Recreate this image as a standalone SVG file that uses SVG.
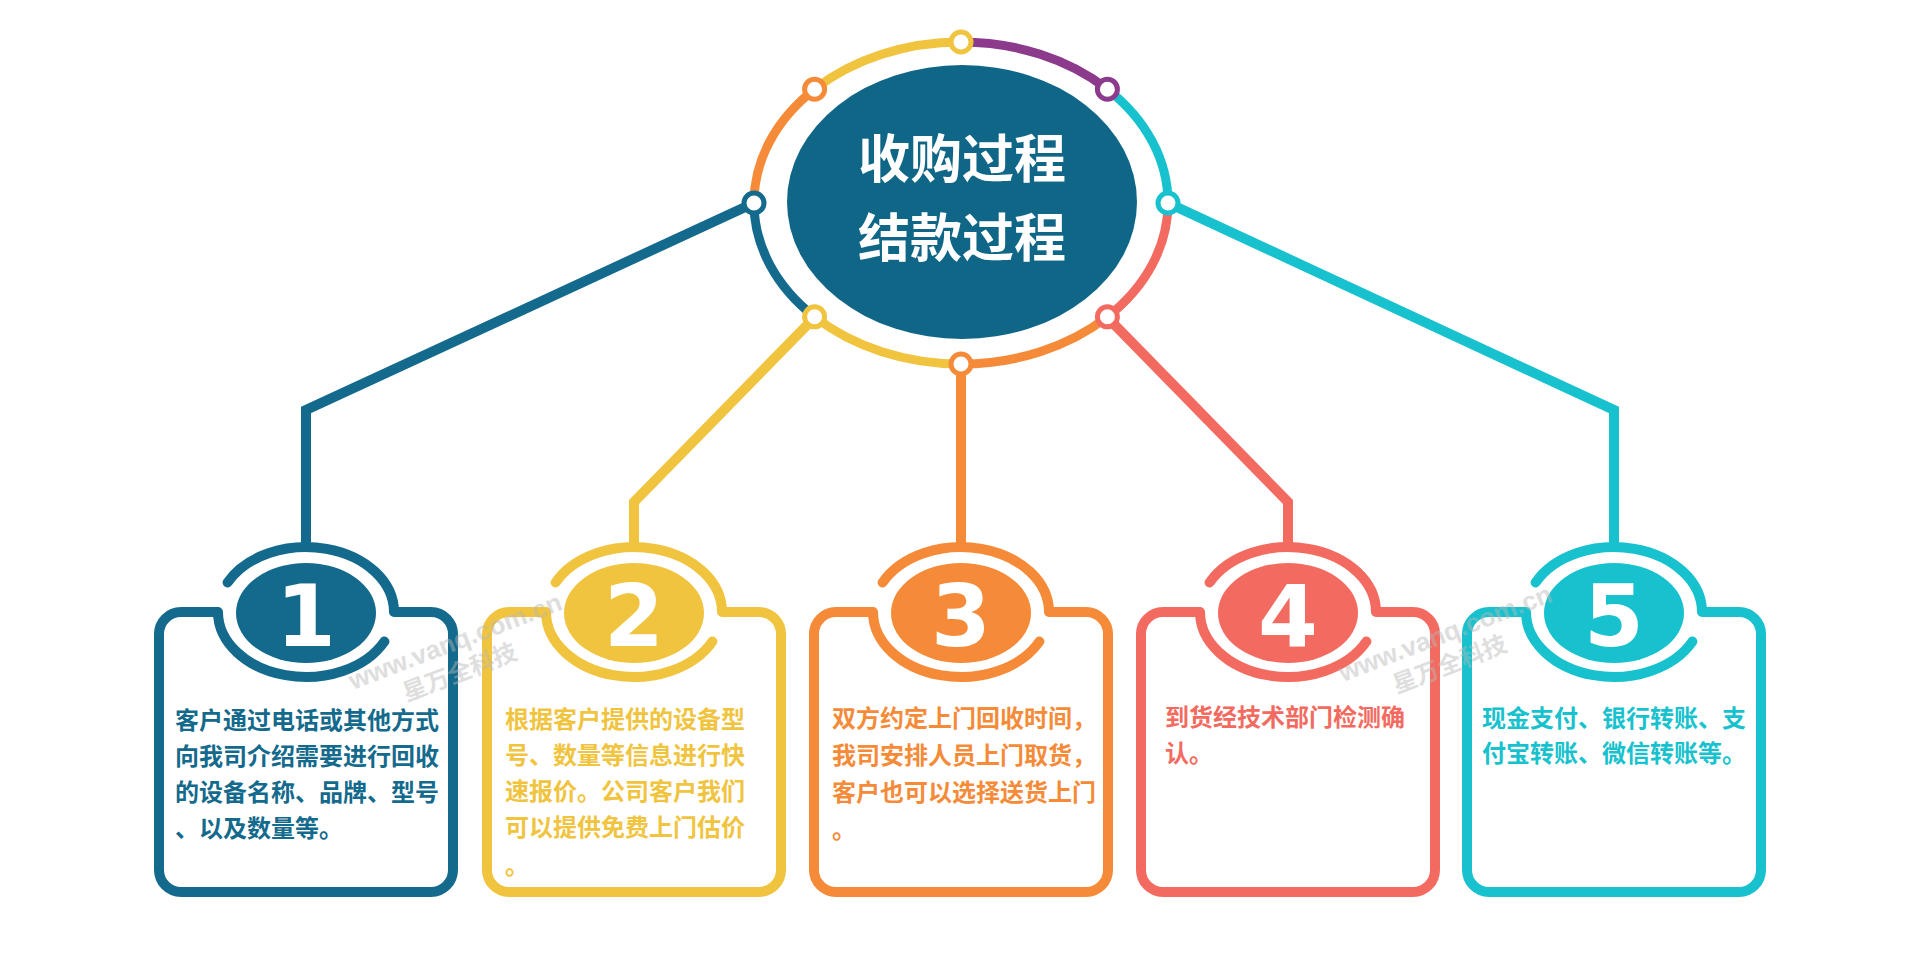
<svg xmlns="http://www.w3.org/2000/svg" width="1920" height="962" viewBox="0 0 1920 962">
<style>
.ring{fill:none;stroke-width:9;}
.dot{fill:#fff;stroke-width:5;}
.conn{fill:none;stroke-width:10;stroke-linejoin:miter;}
.box{fill:none;stroke-width:10;stroke-linecap:round;stroke-linejoin:round;}
.num{font-family:"DejaVu Sans",sans-serif;font-weight:bold;font-size:86px;fill:#fff;text-anchor:middle;}
.txt{font-family:"Noto Sans CJK SC","Noto Sans",sans-serif;font-weight:bold;font-size:24px;}
.title{font-family:"Noto Sans CJK SC","Noto Sans",sans-serif;font-weight:bold;font-size:52px;fill:#fff;text-anchor:middle;}
.wm{font-family:"Liberation Sans","Noto Sans CJK SC",sans-serif;font-weight:bold;fill:#b8b8b8;opacity:0.45;}
.blue{stroke:#136a8c;} .yellow{stroke:#f1c43f;} .orange{stroke:#f58b38;} .salmon{stroke:#f36b60;} .cyan{stroke:#17c2ce;} .purple{stroke:#8c3a8c;}
</style>
<defs>
<path id="badge" d="M -78.4 582.5 A 88 65 0 0 1 88 612 L 125 612 A 22 22 0 0 1 147 634 L 147 870 A 22 22 0 0 1 125 892 L -125 892 A 22 22 0 0 1 -147 870 L -147 634 A 22 22 0 0 1 -125 612 L -88 612 A 88 65 0 0 0 78.4 641.5"/>
</defs>
<rect width="1920" height="962" fill="#fff"/>

<g id="connectors">
<path class="conn blue" d="M 754 203 L 306 410 L 306 548"/>
<path class="conn yellow" d="M 815 317 L 634 502 L 634 548"/>
<path class="conn orange" d="M 961 364 L 961 548"/>
<path class="conn salmon" d="M 1107 317 L 1288 502 L 1288 548"/>
<path class="conn cyan" d="M 1168 203 L 1614 410 L 1614 548"/>
</g>

<g id="center">
<ellipse cx="962" cy="202" rx="175" ry="137" fill="#0f6687"/>
<path class="ring purple" d="M 961 42 A 207 161 0 0 1 1107.4 89.2"/>
<path class="ring cyan" d="M 1107.4 89.2 A 207 161 0 0 1 1168 203"/>
<path class="ring salmon" d="M 1168 203 A 207 161 0 0 1 1107.4 316.8"/>
<path class="ring orange" d="M 1107.4 316.8 A 207 161 0 0 1 961 364"/>
<path class="ring yellow" d="M 961 364 A 207 161 0 0 1 814.6 316.8"/>
<path class="ring blue" d="M 814.6 316.8 A 207 161 0 0 1 754 203"/>
<path class="ring orange" d="M 754 203 A 207 161 0 0 1 814.6 89.2"/>
<path class="ring yellow" d="M 814.6 89.2 A 207 161 0 0 1 961 42"/>
<circle class="dot yellow" cx="961" cy="42" r="10"/>
<circle class="dot purple" cx="1107.4" cy="89.2" r="10"/>
<circle class="dot cyan" cx="1168" cy="203" r="10"/>
<circle class="dot salmon" cx="1107.4" cy="316.8" r="10"/>
<circle class="dot orange" cx="961" cy="364" r="10"/>
<circle class="dot yellow" cx="814.6" cy="316.8" r="10"/>
<circle class="dot blue" cx="754" cy="203" r="10"/>
<circle class="dot orange" cx="814.6" cy="89.2" r="10"/>
<text class="title" x="962" y="178">收购过程</text>
<text class="title" x="962" y="257">结款过程</text>
</g>

<g id="step1" transform="translate(306,0)">
<use href="#badge" class="box blue"/>
<ellipse cx="0" cy="613" rx="70" ry="50" fill="#136a8c"/>
<text class="num" x="0" y="646">1</text>
<text class="txt" fill="#136a8c"><tspan x="-131" y="729">客户通过电话或其他方式</tspan><tspan x="-131" y="765">向我司介绍需要进行回收</tspan><tspan x="-131" y="801">的设备名称、品牌、型号</tspan><tspan x="-131" y="837">、以及数量等。</tspan></text>
</g>

<g id="step2" transform="translate(634,0)">
<use href="#badge" class="box yellow"/>
<ellipse cx="0" cy="613" rx="70" ry="50" fill="#f1c43f"/>
<text class="num" x="0" y="646">2</text>
<text class="txt" fill="#f1c43f"><tspan x="-129" y="728">根据客户提供的设备型</tspan><tspan x="-129" y="764">号、数量等信息进行快</tspan><tspan x="-129" y="800">速报价。公司客户我们</tspan><tspan x="-129" y="836">可以提供免费上门估价</tspan><tspan x="-129" y="874">。</tspan></text>
</g>

<g id="step3" transform="translate(961,0)">
<use href="#badge" class="box orange"/>
<ellipse cx="0" cy="613" rx="70" ry="50" fill="#f58b38"/>
<text class="num" x="0" y="646">3</text>
<text class="txt" fill="#f58b38"><tspan x="-129" y="727">双方约定上门回收时间，</tspan><tspan x="-129" y="764">我司安排人员上门取货，</tspan><tspan x="-129" y="801">客户也可以选择送货上门</tspan><tspan x="-129" y="838">。</tspan></text>
</g>

<g id="step4" transform="translate(1288,0)">
<use href="#badge" class="box salmon"/>
<ellipse cx="0" cy="613" rx="70" ry="50" fill="#f36b60"/>
<text class="num" x="0" y="646">4</text>
<text class="txt" fill="#f36b60"><tspan x="-123" y="726">到货经技术部门检测确</tspan><tspan x="-123" y="762">认。</tspan></text>
</g>

<g id="step5" transform="translate(1614,0)">
<use href="#badge" class="box cyan"/>
<ellipse cx="0" cy="613" rx="70" ry="50" fill="#17c2ce"/>
<text class="num" x="0" y="646">5</text>
<text class="txt" fill="#17c2ce"><tspan x="-132" y="727">现金支付、银行转账、支</tspan><tspan x="-132" y="762">付宝转账、微信转账等。</tspan></text>
</g>

<g id="watermarks">
<g transform="translate(353,690) rotate(-21)">
<text class="wm" x="0" y="0" font-size="26">www.vanq.com.cn</text>
<text class="wm" x="46" y="30" font-size="24">星万全科技</text>
</g>
<g transform="translate(1343,682) rotate(-21)">
<text class="wm" x="0" y="0" font-size="26">www.vanq.com.cn</text>
<text class="wm" x="46" y="30" font-size="24">星万全科技</text>
</g>
</g>
</svg>
